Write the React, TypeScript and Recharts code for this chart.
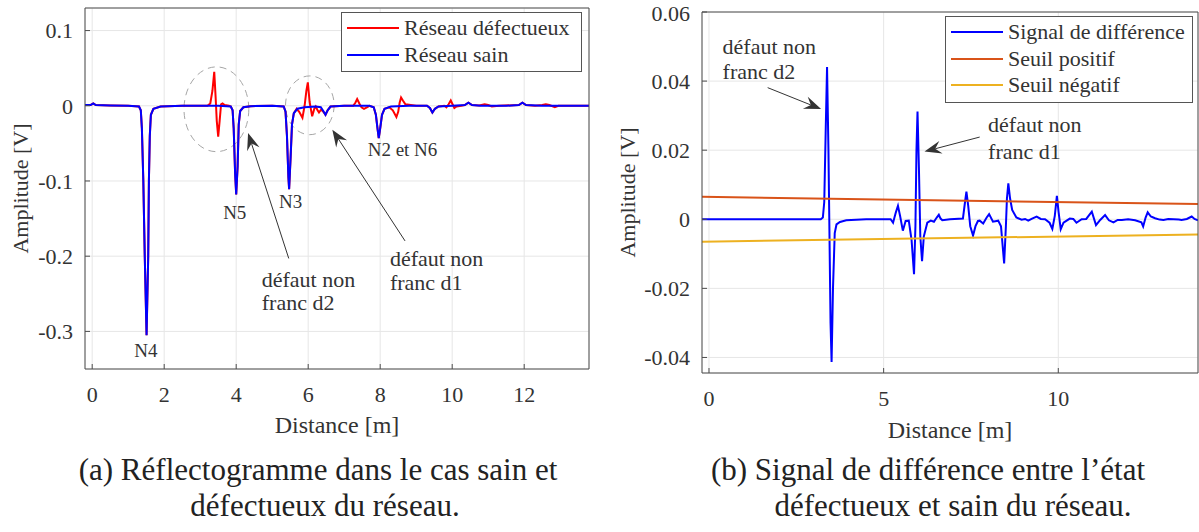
import React from "react";
import {
  LineChart,
  Line,
  XAxis,
  YAxis,
  CartesianGrid,
  ReferenceLine,
  ReferenceArea,
  ReferenceDot,
  Label,
} from "recharts";

const FONT = '"Liberation Serif", "DejaVu Serif", Tinos, "Times New Roman", Times, serif';
const TEXT = "#333333";
const AXIS = "#4d4d4d";
const GRID = "#e6e6e6";

// (a) réflectogramme : réseau sain
const sainDist = [
  -0.2, -0.05, 0.03, 0.1, 0.5, 1.0, 1.3, 1.35, 1.38, 1.42, 1.46, 1.51, 1.556, 1.575, 1.6, 1.63, 1.7, 1.9,
  2.5, 3.0, 3.5, 3.85, 3.9, 3.93, 3.97, 4.0, 4.04, 4.07, 4.11, 4.2, 4.4, 5.0, 5.32, 5.37, 5.41, 5.45, 5.47,
  5.51, 5.55, 5.6, 5.7, 5.9, 6.2, 6.35, 6.42, 6.48, 6.54, 6.62, 7.0, 7.7, 7.82, 7.88, 7.93, 7.96, 8.0, 8.05,
  8.12, 8.3, 8.8, 9.3, 9.38, 9.45, 9.52, 9.62, 10.0, 10.35, 10.45, 10.55, 10.8, 11.5, 11.85, 11.95, 12.05,
  12.5, 13.8,
];
const sainAmp = [
  0.001, 0.001, 0.003, 0.001, 0.0005, 0, -0.001, -0.006, -0.03, -0.1, -0.2, -0.305, -0.2, -0.1, -0.04, -0.012,
  -0.004, -0.001, 0, 0, 0, -0.001, -0.006, -0.03, -0.09, -0.118, -0.08, -0.025, -0.007, -0.002, -0.0005, 0,
  -0.001, -0.008, -0.04, -0.095, -0.111, -0.07, -0.025, -0.01, -0.004, -0.002, -0.001, -0.002, -0.007, -0.012,
  -0.006, -0.001, 0, 0, -0.002, -0.012, -0.032, -0.043, -0.03, -0.012, -0.004, -0.001, 0, 0, -0.003, -0.009,
  -0.004, -0.001, 0, 0.001, 0.004, 0.001, 0, 0, 0.001, 0.004, 0.001, 0, 0,
];

// (a) réflectogramme : réseau défectueux
const defDist = [
  -0.2, -0.05, 0.03, 0.1, 0.5, 1.0, 1.3, 1.35, 1.38, 1.42, 1.46, 1.51, 1.556, 1.575, 1.6, 1.63, 1.7, 1.9,
  2.5, 3.2, 3.28, 3.34, 3.39, 3.43, 3.46, 3.5, 3.54, 3.58, 3.62, 3.68, 3.8, 3.85, 3.9, 3.93, 3.97, 4.0, 4.04,
  4.07, 4.11, 4.2, 4.4, 5.0, 5.32, 5.37, 5.41, 5.45, 5.47, 5.51, 5.55, 5.6, 5.68, 5.75, 5.84, 5.9, 5.95, 5.99,
  6.04, 6.11, 6.17, 6.21, 6.26, 6.3, 6.36, 6.42, 6.48, 6.54, 6.62, 7.0, 7.25, 7.31, 7.36, 7.42, 7.48, 7.55,
  7.63, 7.7, 7.82, 7.88, 7.93, 7.96, 8.0, 8.05, 8.12, 8.25, 8.35, 8.45, 8.5, 8.54, 8.58, 8.63, 8.7, 8.85, 9.0,
  9.3, 9.38, 9.45, 9.52, 9.62, 9.78, 9.84, 9.9, 9.96, 10.01, 10.06, 10.12, 10.25, 10.35, 10.45, 10.55, 10.75,
  10.9, 11.0, 11.1, 11.3, 11.85, 11.95, 12.05, 12.3, 12.5, 12.6, 12.7, 12.85, 12.95, 13.8,
];
const defAmp = [
  0.001, 0.001, 0.003, 0.001, 0.0005, 0, -0.001, -0.006, -0.03, -0.1, -0.2, -0.305, -0.2, -0.1, -0.04, -0.012,
  -0.004, -0.001, 0, 0, 0.003, 0.02, 0.045, 0.01, -0.02, -0.041, -0.02, 0.002, 0.003, 0.001, 0, -0.001, -0.006,
  -0.03, -0.09, -0.118, -0.08, -0.025, -0.007, -0.002, -0.0005, 0, -0.001, -0.008, -0.04, -0.095, -0.111, -0.07,
  -0.025, -0.01, -0.004, -0.008, -0.016, 0.0, 0.02, 0.031, 0.005, -0.014, -0.004, -0.001, -0.006, -0.009,
  -0.005, -0.008, -0.012, -0.006, -0.001, 0, 0, 0.004, 0.009, 0.003, -0.002, -0.004, -0.002, 0, -0.002, -0.012,
  -0.032, -0.043, -0.03, -0.012, -0.004, -0.002, -0.006, -0.015, -0.008, 0.004, 0.011, 0.007, 0.002, 0.001, 0,
  0, -0.003, -0.009, -0.004, -0.001, 0, -0.002, 0.002, 0.007, 0.002, -0.003, -0.001, 0, 0.001, 0.004, 0.001,
  0.0005, 0.002, 0.001, -0.001, 0, 0.001, 0.004, 0.001, 0, 0.001, 0.002, 0.001, -0.002, 0, 0,
];

const ticksAX = [0, 2, 4, 6, 8, 10, 12];
const ticksAY = [-0.3, -0.2, -0.1, 0, 0.1];

// (b) signal de différence et seuils
const diffDist = [
  -0.2, 3.2, 3.26, 3.3, 3.34, 3.38, 3.42, 3.45, 3.48, 3.51, 3.55, 3.6, 3.65, 3.75, 3.93, 4.5, 5.2, 5.27, 5.35,
  5.41, 5.47, 5.55, 5.63, 5.72, 5.8, 5.87, 5.91, 5.94, 5.97, 6.01, 6.05, 6.1, 6.15, 6.25, 6.35, 6.44, 6.52,
  6.58, 6.63, 6.68, 6.9, 7.27, 7.33, 7.37, 7.42, 7.48, 7.56, 7.63, 7.7, 7.75, 7.85, 7.95, 8.02, 8.13, 8.28,
  8.36, 8.45, 8.5, 8.53, 8.57, 8.62, 8.68, 8.8, 8.95, 9.05, 9.14, 9.25, 9.38, 9.5, 9.62, 9.75, 9.83, 9.9, 9.96,
  10.01, 10.07, 10.15, 10.24, 10.33, 10.43, 10.52, 10.67, 10.8, 10.96, 11.08, 11.2, 11.34, 11.45, 11.58, 11.7,
  11.82, 12.0, 12.2, 12.38, 12.43, 12.5, 12.56, 12.65, 12.77, 12.9, 13.01, 13.15, 13.3, 13.45, 13.53, 13.68,
  13.82, 13.9, 14.0,
];
const diffAmp = [
  0, 0, 0.0005, 0.005, 0.025, 0.0441, 0.02, -0.005, -0.03, -0.0413, -0.02, -0.004, -0.0015, -0.0008, -0.0003,
  0, 0, -0.001, 0.002, 0.0039, 0.001, -0.0033, -0.0005, -0.0004, -0.006, -0.0159, -0.002, 0.02, 0.0312, 0.015,
  -0.005, -0.0121, -0.005, -0.001, -0.0004, -0.0007, 0.0005, 0.0013, 0.0002, -0.0003, 0, 0.0002, 0.005, 0.008,
  0.004, -0.002, -0.0047, -0.002, -0.0005, -0.0004, -0.0012, 0.0005, 0.0015, -0.0007, -0.0004, -0.002, -0.0128,
  -0.002, 0.006, 0.0104, 0.006, 0.0027, 0.0005, -0.0001, 0.0001, -0.0004, 0.0002, 0.0008, 0.0001, 0, -0.001,
  -0.0028, 0.001, 0.0068, 0.002, -0.0029, -0.001, -0.0004, 0.0002, 0.0001, -0.001, 0, 0.0001, 0.0022, -0.0017,
  -0.0002, 0.0012, -0.0003, -0.0009, -0.0002, -0.0002, 0, -0.0003, -0.0009, -0.0021, 0.0005, 0.002, 0.0008,
  0.0003, -0.0001, -0.0002, 0.0001, 0, -0.0001, -0.0002, 0.0001, 0.0008, 0.0001, -0.0003,
];
const seuilDist = [-0.2, 14];
const seuilPos = [0.0065, 0.0044];
const seuilNeg = [-0.0065, -0.0044];

const ticksBX = [0, 5, 10];
const ticksBY = [-0.04, -0.02, 0, 0.02, 0.04, 0.06];

const toPoints = (xs: number[], ys: number[]) => xs.map((x, i) => ({ x, y: ys[i] }));

const sainData = toPoints(sainDist, sainAmp);
const defData = toPoints(defDist, defAmp);
const diffData = toPoints(diffDist, diffAmp);
const posData = toPoints(seuilDist, seuilPos);
const negData = toPoints(seuilDist, seuilNeg);

const tickStyle = { fontSize: 22, fill: TEXT, fontFamily: FONT };

function Arrow(props: any) {
  const { x1, y1, x2, y2 } = props;
  const dx = x2 - x1;
  const dy = y2 - y1;
  const len = Math.hypot(dx, dy) || 1;
  const ux = dx / len;
  const uy = dy / len;
  const L = 17;
  const W = 6.5;
  const bx = x2 - ux * L;
  const by = y2 - uy * L;
  const nx = -uy;
  const ny = ux;
  const mx = x2 - ux * L * 0.65;
  const my = y2 - uy * L * 0.65;
  const pts = `${x2},${y2} ${bx + nx * W},${by + ny * W} ${mx},${my} ${bx - nx * W},${by - ny * W}`;
  return (
    <g>
      <line x1={x1} y1={y1} x2={mx} y2={my} stroke="#333" strokeWidth={1} />
      <polygon points={pts} fill="#333" />
    </g>
  );
}

function Ellipse(props: any) {
  const { x, y, width, height } = props;
  return (
    <ellipse
      cx={x + width / 2}
      cy={y + height / 2}
      rx={Math.abs(width) / 2}
      ry={Math.abs(height) / 2}
      fill="none"
      stroke="#a6a6a6"
      strokeWidth={1}
      strokeDasharray="7 5"
    />
  );
}

const note = (text: string, anchor: "start" | "middle", size: number) => (p: any) => (
  <text
    x={p.cx}
    y={p.cy}
    textAnchor={anchor}
    dominantBaseline="central"
    fontFamily={FONT}
    fontSize={size}
    fill={TEXT}
  >
    {text}
  </text>
);

const yTitle = (dx: number) => (p: any) => {
  const vb = p.viewBox;
  const cx = vb.x + dx;
  const cy = vb.y + vb.height / 2;
  return (
    <text
      transform={`translate(${cx}, ${cy}) rotate(-90)`}
      textAnchor="middle"
      dominantBaseline="central"
      fontFamily={FONT}
      fontSize={22}
      fill={TEXT}
    >
      Amplitude [V]
    </text>
  );
};

const xTitle = (dy: number) => (p: any) => {
  const vb = p.viewBox;
  return (
    <text
      x={vb.x + vb.width / 2}
      y={vb.y + dy}
      textAnchor="middle"
      dominantBaseline="central"
      fontFamily={FONT}
      fontSize={24}
      fill={TEXT}
    >
      Distance [m]
    </text>
  );
};

interface LegendItem {
  name: string;
  color: string;
}

function BoxLegend({ items, left, top, width }: { items: LegendItem[]; left: number; top: number; width: number }) {
  return (
    <div
      style={{
        position: "absolute",
        left,
        top,
        width,
        background: "#fff",
        border: "1px solid #555",
        padding: "2px 0 3px 0",
        fontFamily: FONT,
        fontSize: 22,
        color: TEXT,
      }}
    >
      {items.map((it) => (
        <div key={it.name} style={{ display: "flex", alignItems: "center", height: 26.5 }}>
          <div style={{ width: 52, height: 2, background: it.color, marginLeft: 5, marginRight: 5 }} />
          <span style={{ whiteSpace: "nowrap", lineHeight: "26px" }}>{it.name}</span>
        </div>
      ))}
    </div>
  );
}

function Caption({ lines, centers, tops }: { lines: string[]; centers: number[]; tops: number[] }) {
  return (
    <>
      {lines.map((l, i) => (
        <div
          key={l}
          style={{
            position: "absolute",
            left: centers[i] - 300,
            width: 600,
            top: tops[i],
            textAlign: "center",
            fontFamily: FONT,
            fontSize: 31,
            lineHeight: "36px",
            color: "#222",
            whiteSpace: "nowrap",
          }}
        >
          {l}
        </div>
      ))}
    </>
  );
}

function Reflectogramme() {
  return (
    <LineChart width={600} height={450} margin={{ top: 7, right: 10, left: 0, bottom: 0 }}>
      <CartesianGrid stroke={GRID} strokeWidth={1} />
      <XAxis
        type="number"
        dataKey="x"
        domain={[-0.2, 13.8]}
        ticks={ticksAX}
        allowDataOverflow
        height={81}
        tickSize={-5}
        tickMargin={22}
        tick={tickStyle}
        axisLine={{ stroke: AXIS }}
        tickLine={{ stroke: AXIS }}
      >
        <Label content={xTitle(56)} />
      </XAxis>
      <XAxis
        xAxisId="top"
        orientation="top"
        type="number"
        domain={[-0.2, 13.8]}
        ticks={ticksAX}
        allowDataOverflow
        height={1}
        tickSize={-5}
        tick={false}
        axisLine={{ stroke: AXIS }}
        tickLine={{ stroke: AXIS }}
      />
      <YAxis
        type="number"
        domain={[-0.35, 0.13]}
        ticks={ticksAY}
        allowDataOverflow
        width={85}
        tickSize={-5}
        tickMargin={17}
        tick={tickStyle}
        axisLine={{ stroke: AXIS }}
        tickLine={{ stroke: AXIS }}
      >
        <Label content={yTitle(20)} />
      </YAxis>
      <YAxis
        yAxisId="right"
        orientation="right"
        type="number"
        domain={[-0.35, 0.13]}
        ticks={ticksAY}
        allowDataOverflow
        width={1}
        tickSize={-5}
        tick={false}
        axisLine={{ stroke: AXIS }}
        tickLine={{ stroke: AXIS }}
      />
      <Line
        data={defData}
        dataKey="y"
        name="Réseau défectueux"
        type="linear"
        stroke="#ff0000"
        strokeWidth={2}
        dot={false}
        isAnimationActive={false}
      />
      <Line
        data={sainData}
        dataKey="y"
        name="Réseau sain"
        type="linear"
        stroke="#0000ff"
        strokeWidth={2}
        dot={false}
        isAnimationActive={false}
      />
      <ReferenceArea x1={2.55} x2={4.35} y1={-0.061} y2={0.0517} ifOverflow="visible" shape={Ellipse} />
      <ReferenceArea x1={5.37} x2={6.72} y1={-0.0384} y2={0.0397} ifOverflow="visible" shape={Ellipse} />
      <ReferenceLine segment={[{ x: 5.46, y: -0.203 }, { x: 4.33, y: -0.0362 }]} ifOverflow="visible" shape={Arrow} />
      <ReferenceLine segment={[{ x: 8.69, y: -0.1797 }, { x: 6.67, y: -0.0318 }]} ifOverflow="visible" shape={Arrow} />
      <ReferenceDot x={1.49} y={-0.3254} r={0} ifOverflow="visible" shape={note("N4", "middle", 19)} />
      <ReferenceDot x={3.96} y={-0.142} r={0} ifOverflow="visible" shape={note("N5", "middle", 19)} />
      <ReferenceDot x={5.51} y={-0.1268} r={0} ifOverflow="visible" shape={note("N3", "middle", 19)} />
      <ReferenceDot x={8.62} y={-0.0583} r={0} ifOverflow="visible" shape={note("N2 et N6", "middle", 19)} />
      <ReferenceDot x={4.71} y={-0.2305} r={0} ifOverflow="visible" shape={note("défaut non", "start", 22)} />
      <ReferenceDot x={4.71} y={-0.2613} r={0} ifOverflow="visible" shape={note("franc d2", "start", 22)} />
      <ReferenceDot x={8.27} y={-0.2026} r={0} ifOverflow="visible" shape={note("défaut non", "start", 22)} />
      <ReferenceDot x={8.27} y={-0.2348} r={0} ifOverflow="visible" shape={note("franc d1", "start", 22)} />
    </LineChart>
  );
}

function Difference() {
  return (
    <LineChart width={599} height={460} margin={{ top: 11, right: 0, left: 0, bottom: 0 }}>
      <CartesianGrid stroke={GRID} strokeWidth={1} />
      <XAxis
        type="number"
        dataKey="x"
        domain={[-0.2, 14]}
        ticks={ticksBX}
        allowDataOverflow
        height={87}
        tickSize={-5}
        tickMargin={22}
        tick={tickStyle}
        axisLine={{ stroke: AXIS }}
        tickLine={{ stroke: AXIS }}
      >
        <Label content={xTitle(57)} />
      </XAxis>
      <XAxis
        xAxisId="top"
        orientation="top"
        type="number"
        domain={[-0.2, 14]}
        ticks={ticksBX}
        allowDataOverflow
        height={1}
        tickSize={-5}
        tick={false}
        axisLine={{ stroke: AXIS }}
        tickLine={{ stroke: AXIS }}
      />
      <YAxis
        type="number"
        domain={[-0.0445, 0.06]}
        ticks={ticksBY}
        allowDataOverflow
        width={102}
        tickSize={-5}
        tickMargin={17}
        tick={tickStyle}
        axisLine={{ stroke: AXIS }}
        tickLine={{ stroke: AXIS }}
      >
        <Label content={yTitle(27)} />
      </YAxis>
      <YAxis
        yAxisId="right"
        orientation="right"
        type="number"
        domain={[-0.0445, 0.06]}
        ticks={ticksBY}
        allowDataOverflow
        width={1}
        tickSize={-5}
        tick={false}
        axisLine={{ stroke: AXIS }}
        tickLine={{ stroke: AXIS }}
      />
      <Line
        data={diffData}
        dataKey="y"
        name="Signal de différence"
        type="linear"
        stroke="#0000ff"
        strokeWidth={2}
        dot={false}
        isAnimationActive={false}
      />
      <Line
        data={posData}
        dataKey="y"
        name="Seuil positif"
        type="linear"
        stroke="#d95319"
        strokeWidth={2}
        dot={false}
        isAnimationActive={false}
      />
      <Line
        data={negData}
        dataKey="y"
        name="Seuil négatif"
        type="linear"
        stroke="#edb120"
        strokeWidth={2}
        dot={false}
        isAnimationActive={false}
      />
      <ReferenceLine segment={[{ x: 1.68, y: 0.0381 }, { x: 3.21, y: 0.0319 }]} ifOverflow="visible" shape={Arrow} />
      <ReferenceLine segment={[{ x: 7.75, y: 0.0238 }, { x: 6.17, y: 0.0196 }]} ifOverflow="visible" shape={Arrow} />
      <ReferenceDot x={0.39} y={0.05} r={0} ifOverflow="visible" shape={note("défaut non", "start", 22)} />
      <ReferenceDot x={0.39} y={0.0428} r={0} ifOverflow="visible" shape={note("franc d2", "start", 22)} />
      <ReferenceDot x={7.99} y={0.0273} r={0} ifOverflow="visible" shape={note("défaut non", "start", 22)} />
      <ReferenceDot x={7.99} y={0.0196} r={0} ifOverflow="visible" shape={note("franc d1", "start", 22)} />
    </LineChart>
  );
}

export default function App() {
  return (
    <div style={{ position: "absolute", left: 0, top: 0, width: 1199, height: 532, background: "#fff", overflow: "hidden" }}>
      <div style={{ position: "absolute", left: 0, top: 0 }}>
        <Reflectogramme />
      </div>
      <div style={{ position: "absolute", left: 600, top: 0 }}>
        <Difference />
      </div>
      <BoxLegend
        left={341}
        top={12}
        width={239}
        items={[
          { name: "Réseau défectueux", color: "#ff0000" },
          { name: "Réseau sain", color: "#0000ff" },
        ]}
      />
      <BoxLegend
        left={945}
        top={16}
        width={246}
        items={[
          { name: "Signal de différence", color: "#0000ff" },
          { name: "Seuil positif", color: "#d95319" },
          { name: "Seuil négatif", color: "#edb120" },
        ]}
      />
      <Caption
        lines={["(a) Réflectogramme dans le cas sain et", "défectueux du réseau."]}
        centers={[318, 325]}
        tops={[452, 488]}
      />
      <Caption
        lines={["(b) Signal de différence entre l\u2019état", "défectueux et sain du réseau."]}
        centers={[928, 953]}
        tops={[452, 488]}
      />
    </div>
  );
}
